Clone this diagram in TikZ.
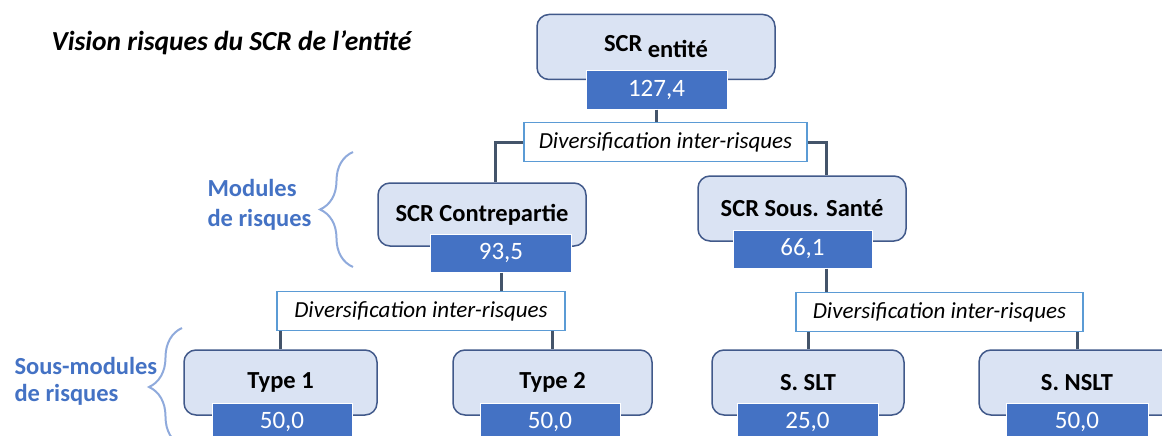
\documentclass[tikz,border=0pt]{standalone}
\usepackage{fontspec}
\setmainfont{Carlito}
\usetikzlibrary{decorations.pathreplacing}
\definecolor{boxfill}{HTML}{DAE3F3}
\definecolor{boxline}{HTML}{41598A}
\definecolor{valfill}{HTML}{4472C4}
\definecolor{divline}{HTML}{5B9BD5}
\definecolor{linkcol}{HTML}{44546A}
\definecolor{bracecol}{HTML}{8FAADC}
\definecolor{labcol}{HTML}{4472C4}

\begin{document}
\begin{tikzpicture}[x=1pt,y=-1pt,
    riskbox/.style={draw=boxline, line width=1.5pt, fill=boxfill, rounded corners=12pt,
      minimum height=65pt, inner sep=0pt, font=\fontsize{24.5}{28}\selectfont\bfseries},
    valbox/.style={draw=white, line width=1pt, fill=valfill, text=white, minimum width=141pt,
      minimum height=38pt, inner sep=0pt, font=\fontsize{25}{28}\selectfont},
    divbox/.style={draw=divline, line width=1.5pt, fill=white, minimum height=39pt,
      inner sep=0pt, font=\fontsize{23}{26}\selectfont\itshape},
    link/.style={draw=linkcol, line width=3pt},
    grp/.style={draw=bracecol, line width=2pt, decorate, decoration={brace, amplitude=33pt}},
    grplabel/.style={text=labcol, align=left, anchor=west}]
        \useasboundingbox (0,0) rectangle (1162,436);
        % Title of the picture.
            \node[anchor=west, font=\fontsize{27.5}{30}\selectfont\bfseries\itshape] (titre) at (48,43) {Vision risques du SCR de l’entité};
        % Top level.
            \node[riskbox, minimum width=238pt] (ent) at (656,47) {SCR \raisebox{-6pt}{entité}};
            \node[valbox] (entv) at (656.5,90) {127,4};
            \node[divbox, minimum width=283pt] (div1) at (665.5,142) {Diversification inter-risques};
        % Modules.
            \node[riskbox, minimum width=208pt, minimum height=63pt] (con) at (482,214.5) {SCR Contrepartie};
            \node[valbox] (conv) at (501,253) {93,5};
            \node[riskbox, minimum width=208pt] (san) at (802,208.5) {SCR Sous. Santé};
            \node[valbox, minimum width=139pt] (sanv) at (802.5,249) {66,1};
            \node[divbox, minimum width=288pt] (div2) at (421,311) {Diversification inter-risques};
            \node[divbox, minimum width=287pt] (div3) at (939.5,312) {Diversification inter-risques};
        % Sub-modules.
            \node[riskbox, minimum width=193pt] (t1) at (280.5,382.5) {Type 1};
            \node[valbox, minimum width=140pt] (t1v) at (282,422) {50,0};
            \node[riskbox, minimum width=199pt] (t2) at (552.5,382.5) {Type 2};
            \node[valbox, minimum width=140pt] (t2v) at (550,422) {50,0};
            \node[riskbox, minimum width=192pt] (slt) at (808,382.5) {S. SLT};
            \node[valbox] (sltv) at (807.5,422) {25,0};
            \node[riskbox, minimum width=196pt] (nslt) at (1077,382.5) {S. NSLT};
            \node[valbox, minimum width=142pt] (nsltv) at (1077,422) {50,0};
        % These are the connectors.
            \coordinate (conlink) at ([xshift=13pt]con.north);
            \coordinate (sanlink) at ([xshift=24pt]san.north);
            \draw[link] (entv.south) -- (entv.south |- div1.north);
            \draw[link] (div1.west) -| (conlink);
            \draw[link] (div1.east) -| (sanlink);
            \draw[link] (conv.south) -- (conv.south |- div2.north);
            \draw[link] (t1.north |- div2.south) -- (t1.north);
            \draw[link] (t2.north |- div2.south) -- (t2.north);
            \draw[link] (sanv.south -| sanlink) -- (sanlink |- div3.north);
            \draw[link] (slt.north |- div3.south) -- (slt.north);
            \draw[link] (nslt.north |- div3.south) -- (nslt.north);
        % Braces and their labels.
            \draw[grp] (353,267) -- (353,152);
            \draw[grp] (182,446) -- (182,328);
            \node[grplabel, font=\fontsize{24.5}{30}\selectfont\bfseries] (mods) at (204,205) {Modules\\de risques};
            \node[grplabel, font=\fontsize{24.5}{27}\selectfont\bfseries] (sousmods) at (11,381) {Sous-modules\\de risques};
    \end{tikzpicture}
\end{document}
